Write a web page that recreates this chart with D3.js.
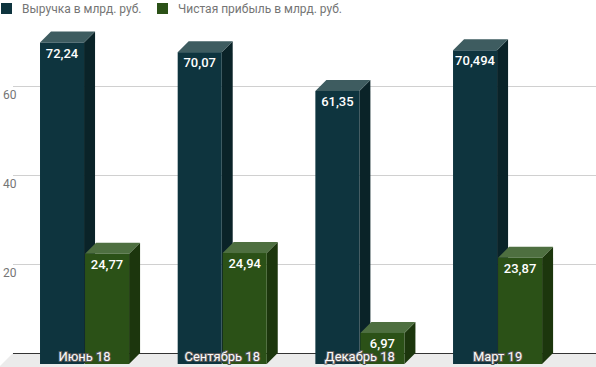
<!DOCTYPE html>
<meta charset="utf-8">
<style>
body { margin: 0; background: #fff; }
svg { font-family: Roboto, sans-serif; }
.grid line { stroke: #d0d0d0; }
.tick-label { fill: #757575; font-size: 12px; }
.legend text { fill: #757575; font-size: 12px; }
.val { fill: #fff; font-size: 13px; font-weight: 500; text-anchor: middle; }
.cat { fill: #fafafa; stroke: #5a5a5a; stroke-width: 2px; paint-order: stroke; font-size: 13px; text-anchor: middle; }
</style>
<body>
<script src="https://cdn.jsdelivr.net/npm/d3@7"></script>
<script>

var categories = ["Июнь 18", "Сентябрь 18", "Декабрь 18", "Март 19"];
var revenue = [72.24, 70.07, 61.35, 70.494];
var profit = [24.77, 24.94, 6.97, 23.87];
var revenueLabels = ["72,24", "70,07", "61,35", "70,494"];
var profitLabels = ["24,77", "24,94", "6,97", "23,87"];
var seriesNames = ["Выручка в млрд. руб.", "Чистая прибыль в млрд. руб."];
var yTicks = [20, 40, 60];

var width = 596, height = 367;
var depth = 11;
// front/top/side colours per series
var colors = [
  { front: "#0e343e", top: "#3e5c60", side: "#0a2328" },
  { front: "#2b5117", top: "#4e6f40", side: "#1c360d" }
];

var svg = d3.select("body").append("svg")
  .attr("width", width)
  .attr("height", height);

var y = d3.scaleLinear().domain([0, 80]).range([353, -3]);

// band scale for the front faces
var x0 = d3.scaleBand().domain(categories).range([15.7, 566.4]);
var x1 = d3.scaleBand().domain([0, 1]).range([0, x0.bandwidth()])
  .paddingInner(0.022).paddingOuter(0.54);

// floor
svg.append("polygon")
  .attr("points", [[13, y(0)], [612, y(0)], [598, 367], [-1, 367]].join(" "))
  .attr("fill", "#ebebeb");

// gridlines
var grid = svg.append("g").attr("class", "grid");
grid.selectAll("line").data(yTicks).enter().append("line")
  .attr("x1", 13).attr("x2", width)
  .attr("y1", function (d) { return y(d) + 0.5; })
  .attr("y2", function (d) { return y(d) + 0.5; });
svg.selectAll("text.tick-label").data(yTicks).enter().append("text")
  .attr("class", "tick-label")
  .attr("x", 3)
  .attr("y", function (d) { return y(d) + 13; })
  .text(function (d) { return d; });

svg.append("line")
  .attr("x1", 13).attr("x2", width)
  .attr("y1", y(0) + 0.5).attr("y2", y(0) + 0.5)
  .attr("stroke", "#333");

// bars
var rows = [];
categories.forEach(function (c, i) {
  rows.push({ cat: c, s: 0, v: revenue[i], label: revenueLabels[i] });
  rows.push({ cat: c, s: 1, v: profit[i], label: profitLabels[i] });
});

var bw = x1.bandwidth();
var bars = svg.selectAll("g.bar").data(rows).enter().append("g").attr("class", "bar")
  .attr("transform", function (d) { return "translate(" + (x0(d.cat) + x1(d.s)) + ",0)"; });

bars.append("polygon")
  .attr("fill", function (d) { return colors[d.s].side; })
  .attr("points", function (d) {
    var t = y(d.v) + depth, b = y(0) + depth;
    return [[bw, t], [bw + depth, t - depth], [bw + depth, b - depth], [bw, b]].join(" ");
  });
bars.append("polygon")
  .attr("fill", function (d) { return colors[d.s].top; })
  .attr("points", function (d) {
    var t = y(d.v) + depth;
    return [[0, t], [depth, t - depth], [bw + depth, t - depth], [bw, t]].join(" ");
  });
bars.append("rect")
  .attr("fill", function (d) { return colors[d.s].front; })
  .attr("x", 0).attr("width", bw)
  .attr("y", function (d) { return y(d.v) + depth; })
  .attr("height", function (d) { return y(0) - y(d.v); });

bars.append("text")
  .attr("class", "val")
  .attr("x", bw / 2)
  .attr("y", function (d) { return y(d.v) + depth + 15; })
  .text(function (d) { return d.label; });

// category labels
svg.selectAll("text.cat").data(categories).enter().append("text")
  .attr("class", "cat")
  .attr("x", function (d) { return x0(d) + x0.bandwidth() / 2; })
  .attr("y", 361)
  .text(function (d) { return d; });

// legend
var legendX = [1, 157];
var legend = svg.selectAll("g.legend").data(seriesNames).enter().append("g")
  .attr("class", "legend")
  .attr("transform", function (d, i) { return "translate(" + legendX[i] + ",3)"; });
legend.append("rect")
  .attr("width", 11).attr("height", 11)
  .attr("fill", function (d, i) { return colors[i].front; });
legend.append("text")
  .attr("x", 21).attr("y", 9.5)
  .text(function (d) { return d; });

</script>
